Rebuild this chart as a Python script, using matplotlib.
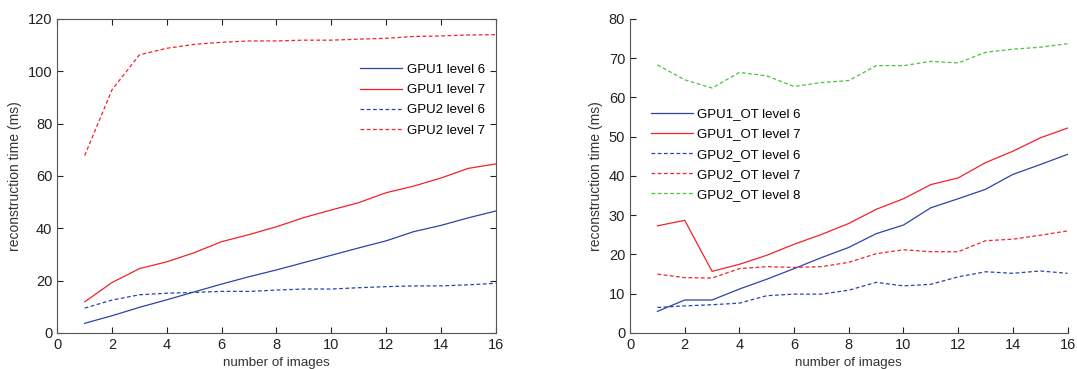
import numpy as np
from matplotlib import pyplot as plt

plt.rcParams['font.family'] = ['Liberation Sans', 'DejaVu Sans']

x = np.arange(1, 17)

# left panel
gpu1_l6 = [3.7, 6.6, 9.8, 12.7, 15.7, 18.7, 21.5, 24.1, 26.9, 29.7, 32.5, 35.2, 38.7, 41.1, 44.0, 46.6]
gpu1_l7 = [11.9, 19.3, 24.6, 27.2, 30.7, 34.9, 37.6, 40.6, 44.1, 47.0, 49.8, 53.6, 56.1, 59.2, 62.9, 64.6]
gpu2_l6 = [9.5, 12.6, 14.6, 15.2, 15.5, 15.9, 15.9, 16.4, 16.8, 16.8, 17.3, 17.7, 18.0, 18.0, 18.4, 19.0]
gpu2_l7 = [67.8, 93.0, 106.3, 108.8, 110.3, 111.1, 111.6, 111.6, 111.9, 111.9, 112.3, 112.6, 113.3, 113.5, 113.9, 114.0]

# right panel
ot1_l6 = [5.5, 8.4, 8.4, 11.2, 13.7, 16.4, 19.2, 21.8, 25.3, 27.5, 31.9, 34.2, 36.6, 40.4, 42.9, 45.5]
ot1_l7 = [27.3, 28.7, 15.7, 17.5, 19.8, 22.6, 25.1, 27.9, 31.5, 34.2, 37.8, 39.5, 43.4, 46.3, 49.7, 52.2]
ot2_l6 = [6.5, 6.9, 7.2, 7.6, 9.5, 9.9, 9.9, 10.9, 12.9, 12.0, 12.4, 14.3, 15.6, 15.2, 15.8, 15.2]
ot2_l7 = [15.0, 14.1, 14.0, 16.4, 16.9, 16.7, 16.9, 18.0, 20.2, 21.2, 20.7, 20.7, 23.5, 23.9, 24.9, 26.0]
ot2_l8 = [68.3, 64.5, 62.4, 66.4, 65.5, 62.8, 63.8, 64.3, 68.1, 68.1, 69.2, 68.8, 71.5, 72.3, 72.8, 73.7]

blue = '#2b44a8'
red = '#f2222a'
green = '#4cc23c'
dash = (0, (3, 2))
lw = 0.9

fig = plt.figure(figsize=(10.77, 3.69), dpi=100)
ax1 = fig.add_axes([0.0532, 0.0976, 0.4070, 0.851])
ax2 = fig.add_axes([0.585, 0.0976, 0.4062, 0.851])

ax1.plot(x, gpu1_l6, color=blue, lw=lw, label='GPU1 level 6')
ax1.plot(x, gpu1_l7, color=red, lw=lw, label='GPU1 level 7')
ax1.plot(x, gpu2_l6, color=blue, lw=lw, ls=dash, label='GPU2 level 6')
ax1.plot(x, gpu2_l7, color=red, lw=lw, ls=dash, label='GPU2 level 7')
ax1.set_xlim(0, 16)
ax1.set_ylim(0, 120)
ax1.set_xticks(range(0, 17, 2))
ax1.set_yticks(range(0, 121, 20))
ax1.tick_params(direction='in', top=True, right=True, labelsize=10.5, length=4, colors='#222222')
for s in ax1.spines.values():
    s.set_color('#555555')
ax1.set_ylabel('reconstruction time (ms)', fontsize=10, color='#333333', labelpad=4)
ax1.set_xlabel('number of images', fontsize=9.6, color='#333333', labelpad=4)
ax1.legend(loc='upper left', bbox_to_anchor=(0.679, 0.874), borderaxespad=0, frameon=False,
           fontsize=9.5, handlelength=3.2, labelspacing=0.6, handletextpad=0.35)

ax2.plot(x, ot1_l6, color=blue, lw=lw, label='GPU1_OT level 6')
ax2.plot(x, ot1_l7, color=red, lw=lw, label='GPU1_OT level 7')
ax2.plot(x, ot2_l6, color=blue, lw=lw, ls=dash, label='GPU2_OT level 6')
ax2.plot(x, ot2_l7, color=red, lw=lw, ls=dash, label='GPU2_OT level 7')
ax2.plot(x, ot2_l8, color=green, lw=lw, ls=dash, label='GPU2_OT level 8')
ax2.set_xlim(0, 16)
ax2.set_ylim(0, 80)
ax2.set_xticks(range(0, 17, 2))
ax2.set_yticks(range(0, 81, 10))
ax2.tick_params(direction='in', labelsize=10.5, length=4, colors='#222222')
ax2.spines['top'].set_visible(False)
ax2.spines['right'].set_visible(False)
for s in ax2.spines.values():
    s.set_color('#555555')
ax2.set_ylabel('reconstruction time (ms)', fontsize=10, color='#333333', labelpad=4)
ax2.set_xlabel('number of images', fontsize=9.6, color='#333333', labelpad=4)
ax2.legend(loc='upper left', bbox_to_anchor=(0.035, 0.733), borderaxespad=0, frameon=False,
           fontsize=9.5, handlelength=3.2, labelspacing=0.6, handletextpad=0.35)

plt.savefig('out.png', dpi=100)
